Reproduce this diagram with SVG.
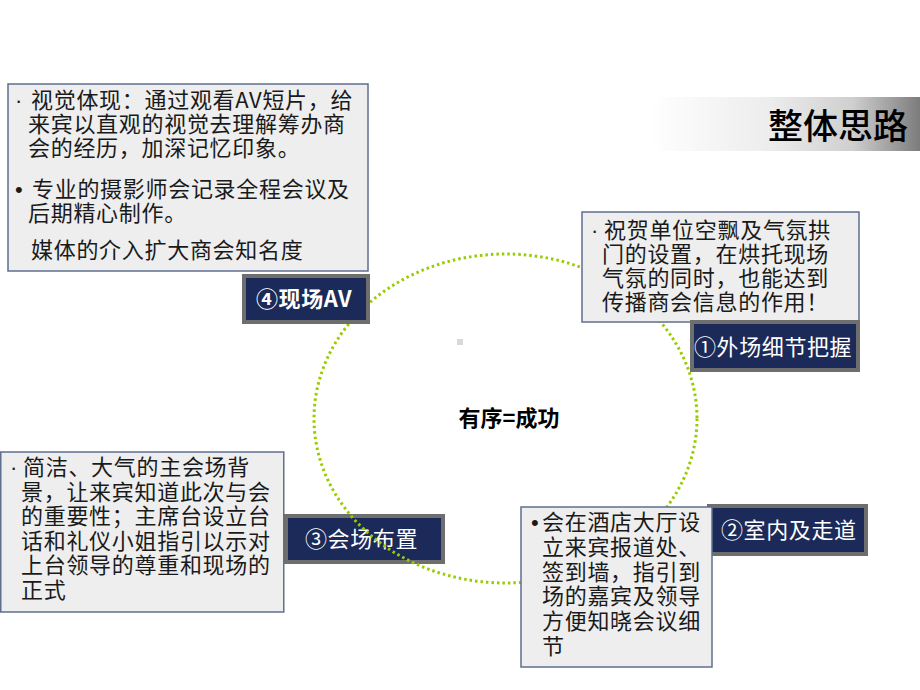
<svg xmlns="http://www.w3.org/2000/svg" width="920" height="690" viewBox="0 0 920 690">
<defs>
<linearGradient id="tg" x1="0" y1="0" x2="1" y2="0">
<stop offset="0" stop-color="#ffffff"/>
<stop offset="0.45" stop-color="#ececec"/>
<stop offset="0.75" stop-color="#cfcfcf"/>
<stop offset="1" stop-color="#7c7c7c"/>
</linearGradient>
<style>
.box{fill:#eeeeee;stroke:#5f6f90;stroke-width:1.5}
.lab{fill:#1b2a58;stroke:#6e6e6e;stroke-width:4}
.t{font-family:"Noto Sans CJK SC","Liberation Sans",sans-serif;font-size:22px;fill:#1a1a1a;letter-spacing:0.7px}
.b{font-family:"Liberation Sans",sans-serif;letter-spacing:0}
.lt{font-family:"Noto Sans CJK SC","Liberation Sans",sans-serif;font-size:22px;fill:#ffffff;letter-spacing:0.6px}
.ring{fill:none;stroke:#99cc00;stroke-width:3;stroke-dasharray:2.5 3}
</style>
</defs>
<rect width="920" height="690" fill="#ffffff"/>

<g id="title">
<rect x="650" y="97" width="270" height="54" fill="url(#tg)"/>
<text x="768" y="139" font-family="'Noto Sans CJK SC','Liberation Sans',sans-serif" font-size="35" fill="#000" font-weight="500">整体思路</text>
</g>

<g id="node3">
<rect class="box" x="0.75" y="452" width="283" height="160"/>
<text class="t" x="10" y="475"><tspan class="b">·</tspan><tspan x="23">简洁、大气的主会场背</tspan><tspan x="21" y="499.5">景，让来宾知道此次与会</tspan><tspan x="21" y="524">的重要性；主席台设立台</tspan><tspan x="21" y="548.5">话和礼仪小姐指引以示对</tspan><tspan x="21" y="573">上台领导的尊重和现场的</tspan><tspan x="21" y="597.5">正式</tspan></text>
<rect class="lab" x="286" y="516" width="157" height="46"/>
<text class="lt" x="305" y="547">③会场布置</text>
</g>

<g id="connectors">
<ellipse class="ring" cx="505.5" cy="418.5" rx="191.5" ry="164.5"/>
</g>

<rect x="457" y="339" width="6" height="6" fill="#d9d9d9"/>
<g id="center">
<text x="509" y="426" text-anchor="middle" font-family="'Noto Sans CJK SC','Liberation Sans',sans-serif" font-size="22" font-weight="bold" fill="#000">有序=成功</text>
</g>

<g id="node4">
<rect class="box" x="8" y="84" width="360" height="187"/>
<text class="t" x="15" y="108"><tspan class="b">·</tspan><tspan x="31">视觉体现：通过观看AV短片，给</tspan><tspan x="28" y="132">来宾以直观的视觉去理解筹办商</tspan><tspan x="28" y="156">会的经历，加深记忆印象。</tspan></text>
<text class="t" x="15" y="197"><tspan class="b">•</tspan><tspan x="32">专业的摄影师会记录全程会议及</tspan><tspan x="28" y="221">后期精心制作。</tspan></text>
<text class="t" x="31" y="258">媒体的介入扩大商会知名度</text>
<rect class="lab" x="244" y="276" width="124" height="46"/>
<text class="lt" x="256" y="307" font-weight="bold">④现场AV</text>
</g>

<g id="node1">
<rect class="box" x="582" y="212" width="277" height="110"/>
<text class="t" x="591" y="238"><tspan class="b">·</tspan><tspan x="604">祝贺单位空飘及气氛拱</tspan><tspan x="602" y="262">门的设置，在烘托现场</tspan><tspan x="602" y="286">气氛的同时，也能达到</tspan><tspan x="602" y="310">传播商会信息的作用！</tspan></text>
<rect class="lab" x="692" y="322" width="166" height="48"/>
<text class="lt" x="694" y="355">①外场细节把握</text>
</g>

<g id="node2">
<rect class="lab" x="709" y="506" width="157" height="48"/>
<text class="lt" x="721" y="538">②室内及走道</text>
<rect class="box" x="521" y="507" width="191" height="160"/>
<text class="t" x="531" y="530"><tspan class="b">•</tspan><tspan x="542">会在酒店大厅设</tspan><tspan x="542" y="555">立来宾报道处、</tspan><tspan x="542" y="579.5">签到墙，指引到</tspan><tspan x="542" y="604">场的嘉宾及领导</tspan><tspan x="542" y="629">方便知晓会议细</tspan><tspan x="542" y="654">节</tspan></text>
</g>
</svg>
